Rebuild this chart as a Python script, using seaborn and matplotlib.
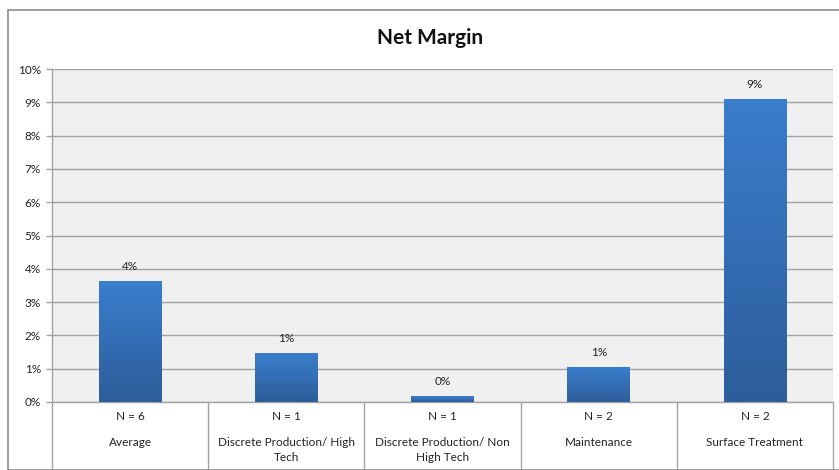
import numpy as np
import pandas as pd
import matplotlib
matplotlib.use("Agg")
import matplotlib.pyplot as plt
from matplotlib.colors import LinearSegmentedColormap
from matplotlib.patches import Rectangle
import seaborn as sns

# Net margin by segment
categories = ["Average", "Discrete Production/ High\nTech", "Discrete Production/ Non\nHigh Tech",
              "Maintenance", "Surface Treatment"]
counts = ["N = 6", "N = 1", "N = 1", "N = 2", "N = 2"]
net_margin = [0.0363, 0.0147, 0.0018, 0.0105, 0.0910]

df = pd.DataFrame({"category": categories, "margin": net_margin})

sns.set_theme(style="white")
plt.rcParams["font.family"] = ["Lato", "DejaVu Sans"]

fig = plt.figure(figsize=(8.39, 4.70), dpi=100)
W, H = 839, 470

# outer chart frame
fig.patches.append(Rectangle((8 / W, 0), 1.0, 1 - 10 / H, transform=fig.transFigure,
                             fill=False, edgecolor="#8c8c8c", linewidth=1.2, zorder=0))

ax = fig.add_axes([52 / W, (H - 402) / H, (833 - 52) / W, (402 - 69) / H])
ax.set_facecolor("#f0f0f0")

sns.barplot(data=df, x="category", y="margin", ax=ax, width=0.4,
            color="#3a7dcb", saturation=1, zorder=2)

# vertical gradient fill on each bar
grad = LinearSegmentedColormap.from_list("bar", ["#2d5d9b", "#3a7ecd"])
gradient = np.linspace(0, 1, 256).reshape(-1, 1)
for patch in ax.patches:
    x0, y0 = patch.get_x(), patch.get_y()
    w, h = patch.get_width(), patch.get_height()
    img = ax.imshow(gradient, cmap=grad, origin="lower", aspect="auto",
                    extent=(x0, x0 + w, y0, y0 + h), zorder=3)
    img.set_clip_path(patch)
    patch.set_facecolor("none")
    patch.set_edgecolor("none")

ax.set_xlim(-0.5, len(categories) - 0.5)
ax.set_ylim(0, 0.10)
ax.set_yticks(np.arange(0, 0.101, 0.01))
ax.set_yticklabels([f"{int(round(v * 100))}%" for v in np.arange(0, 0.101, 0.01)],
                   fontsize=8.5, color="#222222")
ax.yaxis.grid(True, color="#a3a3a3", linewidth=1.0, zorder=1)
ax.set_axisbelow(True)
ax.tick_params(axis="y", left=True, length=4, width=1, color="#a3a3a3", pad=4)
ax.tick_params(axis="x", bottom=False, labelbottom=False)
ax.set_xlabel("")
ax.set_ylabel("")
for side in ["top", "right"]:
    ax.spines[side].set_visible(False)
ax.spines["left"].set_color("#a3a3a3")
ax.spines["bottom"].set_color("#a3a3a3")
ax.spines["left"].set_linewidth(1.0)
ax.spines["bottom"].set_linewidth(1.0)

# value labels
for i, v in enumerate(net_margin):
    ax.annotate(f"{v:.0%}", (i, v), xytext=(0, 6.5), textcoords="offset points",
                ha="center", va="bottom", fontsize=8.5, color="#222222")

# two-level category axis below the plot
trans = ax.get_xaxis_transform()
for b in np.arange(-0.5, len(categories), 1.0):
    ax.plot([b, b], [0, -66 / 333], transform=trans, color="#a3a3a3",
            linewidth=1.0, clip_on=False)
for i, (n, c) in enumerate(zip(counts, categories)):
    ax.text(i, -14 / 333, n, transform=trans, ha="center", va="center",
            fontsize=8.5, color="#222222")
    ax.text(i, -35 / 333, c, transform=trans, ha="center", va="top",
            fontsize=8.5, color="#222222", linespacing=1.4)

fig.text(430 / W, 1 - 38 / H, "Net Margin", ha="center", va="center",
         fontsize=15, fontweight="bold", color="#111111")

fig.savefig("out.png", dpi=100)
